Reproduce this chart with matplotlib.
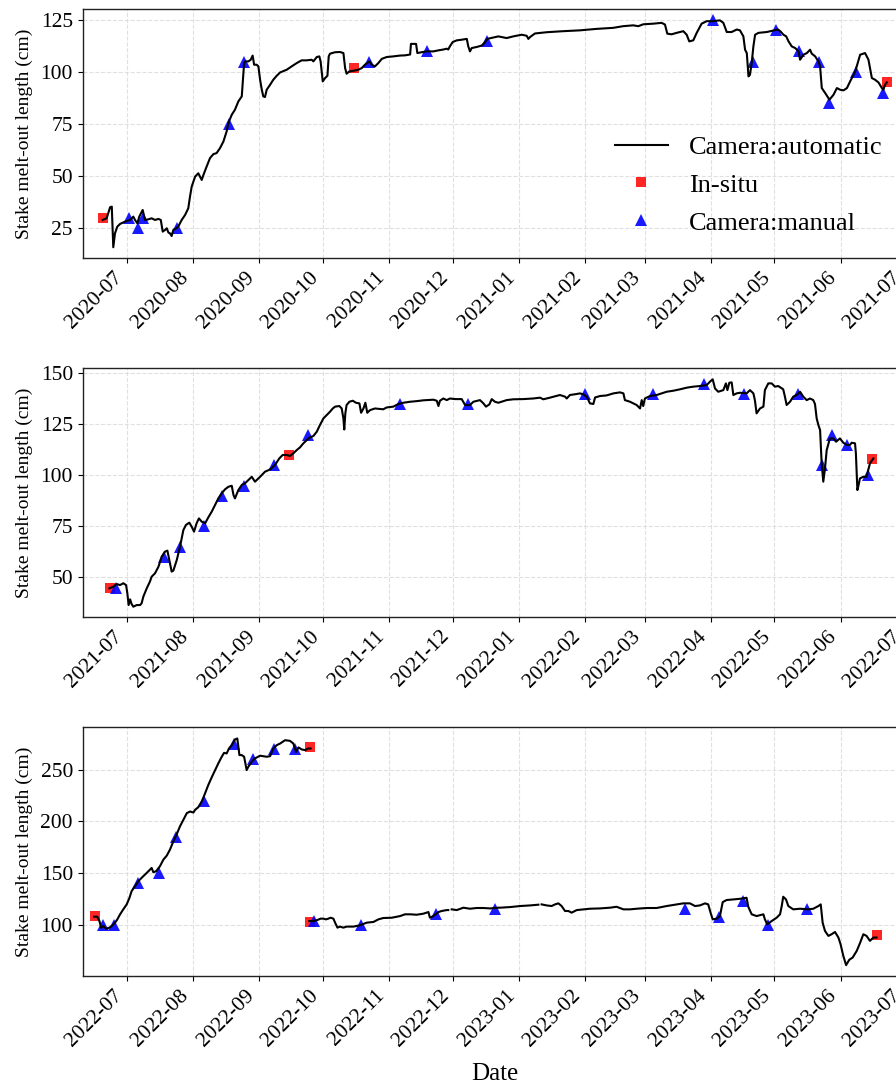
import numpy as np
import matplotlib
matplotlib.use("Agg")
import matplotlib.pyplot as plt
import matplotlib.dates as mdates
from matplotlib.lines import Line2D

plt.rcParams['font.family'] = ['Liberation Serif', 'DejaVu Serif']

# ---------------- data: [days since season start, stake melt-out length (cm)] ----------------
start1 = "2020-07-01"
start2 = "2021-07-01"
start3 = "2022-07-01"

auto1 = np.array([
    [-11.3, 29.0], [-9.4, 29.8], [-7.8, 35.1], [-7.0, 35.4], [-6.3, 15.9], [-5.5, 22.6], [-4.4, 25.8],
    [-3.1, 27.1], [-0.8, 28.2], [1.6, 29.0], [3.1, 30.6], [3.9, 29.0], [5.0, 27.4], [5.9, 30.6],
    [7.5, 33.8], [8.6, 29.0], [10.2, 29.3], [11.7, 29.8], [13.3, 29.0], [14.9, 29.5], [16.0, 29.0],
    [16.9, 23.4], [18.0, 24.2], [18.8, 25.0], [19.6, 22.9], [20.3, 22.6], [21.1, 21.3], [21.9, 24.2],
    [23.2, 25.0], [24.2, 25.8], [25.8, 29.0], [27.4, 31.4], [28.9, 34.6], [29.7, 40.2], [30.5, 45.0],
    [32.1, 49.8], [33.6, 51.4], [34.4, 49.8], [35.2, 48.2], [36.0, 50.6], [37.5, 54.6], [39.1, 58.7],
    [40.7, 60.6], [42.2, 61.1], [43.8, 63.5], [45.4, 66.7], [46.9, 71.5], [47.7, 75.5], [49.3, 79.5],
    [50.8, 81.9], [52.4, 85.9], [54.0, 88.3], [54.7, 98.7], [55.1, 104.3], [55.8, 105.1], [57.1, 105.1],
    [58.2, 105.9], [59.1, 107.9], [59.8, 103.5], [61.0, 103.5], [61.8, 102.7], [62.6, 96.3], [63.4, 91.5],
    [64.1, 88.3], [64.9, 88.0], [65.7, 91.5], [67.3, 93.9], [68.8, 96.3], [70.4, 98.2], [72.0, 99.8],
    [75.1, 101.1], [77.4, 102.7], [79.8, 104.3], [82.1, 105.6], [84.5, 105.6], [86.8, 105.9], [87.6, 105.1],
    [89.2, 107.2], [90.4, 107.5], [91.0, 105.1], [92.0, 95.5], [93.1, 97.1], [94.2, 98.2], [94.8, 107.5],
    [95.4, 108.8], [97.8, 109.5], [100.1, 109.6], [101.7, 109.1], [102.5, 101.9], [103.2, 99.2],
    [104.5, 100.3], [106.4, 100.6], [108.7, 101.1], [110.3, 101.9], [111.8, 103.5], [113.9, 105.1],
    [115.0, 103.5], [116.5, 102.7], [118.1, 104.3], [119.7, 106.3], [122.0, 107.2], [125.1, 107.5],
    [128.3, 107.9], [130.6, 108.0], [133.0, 108.4], [133.4, 113.5], [135.8, 113.5], [136.4, 109.1],
    [138.4, 109.5], [140.8, 109.9], [143.9, 109.9], [146.3, 110.4], [148.6, 110.8], [150.2, 111.2],
    [150.9, 110.8], [151.7, 112.4], [153.0, 114.4], [154.9, 115.2], [157.2, 115.5], [159.6, 115.9],
    [160.3, 112.3], [161.1, 109.9], [161.9, 111.5], [164.2, 112.0], [166.6, 112.7], [168.2, 114.3],
    [169.2, 115.9], [171.3, 116.4], [174.4, 117.1], [178.3, 116.3], [181.4, 117.1], [185.4, 117.9],
    [187.7, 117.4], [188.5, 115.9], [189.3, 116.8], [191.6, 118.5], [197.1, 119.1], [204.9, 119.6],
    [212.7, 120.0], [220.5, 120.7], [228.3, 121.2], [233.0, 122.0], [237.7, 122.4], [240.1, 122.0],
    [242.4, 122.9], [247.1, 123.2], [251.0, 123.6], [252.6, 122.8], [253.7, 118.4], [255.7, 118.1],
    [258.1, 118.8], [261.2, 119.6], [262.8, 117.9], [264.0, 114.7], [265.9, 115.2], [267.5, 118.8],
    [269.8, 123.2], [272.2, 124.4], [275.3, 124.4], [278.4, 124.8], [280.0, 123.6], [281.6, 119.2],
    [283.9, 119.2], [286.3, 120.4], [287.8, 120.0], [289.4, 117.1], [290.2, 110.7], [291.0, 109.1],
    [291.8, 97.9], [292.5, 98.7], [293.3, 104.3], [294.1, 112.3], [294.9, 117.9], [296.5, 118.8],
    [300.4, 119.2], [303.5, 119.9], [305.6, 120.4], [306.7, 119.6], [308.2, 117.9], [309.5, 117.1],
    [310.6, 114.7], [312.1, 112.3], [313.7, 111.5], [315.3, 109.9], [316.0, 105.9], [317.6, 108.3],
    [319.2, 109.1], [320.7, 110.7], [321.5, 108.8], [323.1, 107.5], [324.6, 105.1], [325.4, 102.7],
    [326.2, 92.3], [327.8, 89.9], [329.8, 86.7], [331.7, 89.1], [333.3, 92.3], [334.8, 91.5],
    [336.4, 91.2], [338.0, 92.3], [339.5, 95.5], [341.9, 100.3], [344.2, 108.3], [346.5, 109.1],
    [348.1, 105.9], [349.7, 97.1], [351.2, 96.3], [352.8, 95.0], [354.4, 92.3], [355.1, 91.5],
    [355.9, 93.9], [356.7, 95.0],
])
insitu1 = np.array([[-10.9, 30], [106.7, 102], [357.0, 95]])
manual1 = np.array([
    [1.3, 30], [5.2, 25], [7.5, 30], [23.5, 25], [48.2, 75], [55.1, 105], [113.9, 105], [141.1, 110],
    [169.2, 115], [275.0, 125], [294.1, 105], [304.8, 120], [315.3, 110], [325.1, 105], [329.8, 85],
    [342.3, 100], [355.1, 90],
])

auto2 = np.array([
    [-8.1, 44.6], [-6.3, 45.4], [-4.7, 46.7], [-3.1, 46.2], [-1.6, 47.1], [-0.3, 46.2], [0.3, 42.2],
    [0.9, 36.4], [1.6, 39.2], [2.3, 36.9], [3.1, 35.6], [4.7, 36.4], [6.3, 36.4], [7.0, 37.3],
    [7.8, 40.5], [9.4, 44.6], [10.9, 47.9], [11.7, 50.3], [13.3, 52.0], [14.9, 55.2], [16.4, 60.1],
    [18.0, 62.6], [19.1, 63.1], [20.0, 58.5], [21.1, 52.8], [21.9, 53.3], [23.5, 58.5], [25.0, 65.0],
    [26.6, 73.2], [27.8, 75.7], [29.4, 76.8], [30.5, 74.8], [31.6, 72.4], [32.8, 76.5], [33.9, 78.9],
    [35.2, 77.3], [36.8, 76.5], [38.3, 79.4], [39.9, 82.2], [41.5, 85.5], [43.0, 88.7], [44.6, 91.2],
    [46.1, 93.1], [47.7, 94.4], [49.3, 94.9], [50.1, 90.4], [50.8, 88.7], [52.4, 92.8], [54.0, 95.3],
    [55.5, 96.1], [57.1, 97.7], [58.7, 99.3], [60.2, 96.9], [62.6, 99.3], [64.9, 101.8], [67.3, 102.9],
    [69.6, 105.1], [71.6, 108.3], [73.2, 110.0], [75.1, 110.0], [76.6, 109.5], [78.2, 110.8],
    [79.8, 112.4], [81.3, 113.7], [82.9, 115.7], [84.5, 117.3], [86.0, 118.6], [87.6, 119.3],
    [89.2, 121.4], [90.7, 124.7], [92.3, 127.9], [93.9, 129.6], [95.4, 131.2], [96.7, 132.8],
    [97.8, 133.7], [99.8, 134.0], [100.9, 132.8], [101.7, 127.9], [102.1, 122.5], [102.6, 130.4],
    [103.2, 134.5], [104.5, 136.1], [106.1, 136.6], [107.6, 135.6], [109.2, 135.3], [110.0, 130.7],
    [111.1, 132.8], [112.0, 135.6], [112.9, 130.7], [114.2, 132.0], [116.5, 132.8], [120.4, 132.4],
    [122.0, 133.3], [125.1, 133.7], [127.5, 135.0], [129.8, 135.6], [133.0, 136.1], [136.1, 136.4],
    [139.2, 136.8], [143.9, 137.1], [145.5, 136.6], [146.3, 134.0], [147.0, 136.6], [148.6, 137.7],
    [150.2, 136.9], [151.7, 137.7], [154.1, 137.4], [157.2, 137.4], [158.8, 134.5], [161.1, 134.5],
    [162.7, 136.1], [165.8, 136.9], [167.4, 135.3], [168.6, 133.7], [170.2, 134.8], [171.3, 137.4],
    [172.8, 136.1], [174.4, 135.6], [178.3, 136.9], [181.4, 137.3], [186.1, 137.4], [190.8, 137.7],
    [194.0, 138.1], [195.5, 137.3], [198.6, 138.1], [203.3, 139.4], [205.7, 138.6], [206.5, 137.7],
    [208.0, 139.4], [211.2, 139.9], [212.7, 140.2], [214.3, 139.7], [215.9, 138.6], [217.4, 135.3],
    [219.0, 135.0], [219.8, 138.2], [222.1, 138.9], [225.2, 139.2], [228.4, 140.2], [231.5, 140.7],
    [233.1, 140.2], [233.8, 136.9], [236.2, 136.1], [239.3, 134.5], [240.9, 132.8], [241.7, 136.9],
    [242.4, 134.0], [243.2, 137.7], [245.6, 138.9], [248.7, 139.4], [253.4, 141.0], [256.5, 141.5],
    [259.7, 142.2], [262.8, 143.0], [265.9, 143.5], [269.0, 143.8], [272.2, 144.3], [273.7, 145.9],
    [275.0, 147.1], [276.1, 142.6], [277.6, 141.0], [280.0, 141.8], [281.2, 145.1], [281.9, 141.8],
    [282.8, 145.4], [283.9, 145.6], [284.7, 139.4], [286.2, 140.2], [287.8, 140.5], [290.9, 140.2],
    [292.5, 141.8], [294.1, 140.2], [294.8, 136.9], [295.6, 130.4], [297.2, 132.8], [298.8, 133.7],
    [299.5, 141.8], [301.1, 145.1], [302.7, 145.1], [304.2, 143.5], [305.8, 143.8], [308.1, 142.2],
    [308.9, 138.6], [309.7, 134.5], [311.3, 136.1], [312.8, 138.6], [314.4, 139.4], [316.0, 141.0],
    [317.5, 138.6], [319.1, 136.9], [320.7, 137.7], [322.2, 136.9], [323.0, 135.0], [323.8, 127.9],
    [324.6, 124.7], [325.4, 122.2], [326.1, 106.7], [326.9, 96.9], [327.7, 103.4], [328.5, 112.4],
    [330.0, 118.1], [331.6, 118.1], [332.9, 116.5], [334.7, 118.1], [336.3, 116.0], [337.9, 114.9],
    [339.4, 114.9], [340.2, 116.0], [341.8, 115.7], [342.2, 110.8], [342.9, 92.8], [343.3, 94.4],
    [344.1, 98.5], [345.7, 99.3], [347.2, 99.3], [348.8, 105.9], [350.4, 108.3],
])
insitu2 = np.array([[-7.8, 45], [76.0, 110], [349.9, 108]])
manual2 = np.array([
    [-5.0, 45], [17.5, 60], [25.0, 65], [36.3, 75], [44.6, 90], [55.2, 95], [69.3, 105], [85.2, 120],
    [128.3, 135], [160.0, 135], [215.1, 140], [246.8, 140], [270.9, 145], [289.8, 140], [315.2, 140],
    [326.1, 105], [330.8, 120], [337.9, 115], [348.0, 100],
])

nan = np.nan
auto3 = np.array([
    [-15.3, 107.7], [-13.8, 107.7], [-12.8, 103.5], [-12.0, 97.1], [-10.9, 98.7], [-9.7, 96.1],
    [-8.1, 97.1], [-7.0, 98.7], [-5.5, 101.9], [-4.4, 105.1], [-3.1, 110.0], [-1.6, 114.8],
    [0.0, 119.6], [1.3, 126.0], [2.3, 132.4], [3.9, 137.3], [5.5, 142.1], [7.0, 145.3], [8.6, 148.5],
    [10.2, 151.7], [11.7, 154.9], [12.5, 150.7], [13.8, 151.7], [15.6, 156.5], [17.2, 162.9],
    [18.8, 166.8], [20.3, 172.6], [21.9, 180.6], [23.5, 187.7], [25.0, 195.1], [26.6, 201.5],
    [28.2, 207.9], [29.7, 209.5], [31.3, 208.5], [32.1, 211.1], [33.6, 213.7], [35.2, 219.1],
    [36.8, 227.2], [38.3, 235.2], [39.9, 242.6], [41.5, 249.6], [43.0, 256.1], [44.6, 262.5],
    [45.7, 266.3], [46.9, 265.7], [48.0, 270.5], [49.3, 273.7], [50.8, 279.2], [51.9, 280.2],
    [52.9, 264.1], [54.0, 264.1], [55.1, 262.5], [56.3, 249.6], [57.1, 252.9], [58.7, 257.7],
    [60.2, 260.9], [62.6, 263.5], [65.7, 262.5], [67.3, 263.1], [68.8, 270.5], [70.4, 273.7],
    [72.0, 275.3], [74.3, 278.5], [76.6, 277.9], [78.2, 275.3], [79.5, 267.3], [80.6, 271.5],
    [82.1, 269.6], [83.7, 268.9], [85.2, 270.5], [86.3, 270.5],
    [nan, nan],
    [85.7, 103.5], [87.6, 103.5], [89.5, 104.5], [91.0, 105.8], [92.3, 105.8], [93.5, 105.1],
    [94.6, 105.8], [95.7, 106.7], [97.0, 105.8], [97.8, 101.9], [98.9, 97.1], [100.1, 98.1],
    [101.7, 97.1], [103.2, 98.1], [106.4, 98.1], [109.5, 99.4], [112.6, 101.9], [115.8, 102.6],
    [118.1, 105.1], [120.4, 106.4], [124.4, 106.7], [128.3, 108.3], [130.6, 110.0], [133.0, 110.0],
    [136.1, 109.6], [139.2, 110.6], [141.6, 112.2], [142.3, 106.7], [143.9, 108.3], [146.3, 112.2],
    [147.8, 113.2], [150.2, 114.1], [150.9, 114.1],
    [nan, nan],
    [152.5, 114.8], [154.9, 114.1], [158.0, 116.4], [161.1, 115.4], [164.2, 116.1], [167.4, 116.1],
    [170.5, 115.7], [174.4, 116.4], [175.2, 116.4], [179.9, 117.0], [184.6, 118.0], [189.3, 118.6],
    [193.2, 119.3],
    [nan, nan],
    [194.7, 119.6], [197.1, 118.6], [199.4, 118.0], [201.0, 119.6], [202.6, 120.6], [204.1, 118.0],
    [205.7, 113.2], [207.3, 113.2], [208.8, 111.6], [211.2, 114.1], [214.3, 114.8], [217.4, 115.4],
    [222.1, 115.7], [226.8, 116.4], [229.9, 117.3], [233.1, 114.8], [236.2, 114.8], [239.3, 115.4],
    [244.0, 116.1], [248.7, 116.1], [253.4, 118.0], [258.1, 119.6], [261.2, 120.6], [264.3, 120.6],
    [266.7, 118.0], [269.0, 118.6], [271.4, 120.6], [272.9, 119.6], [274.0, 111.6], [275.0, 105.1],
    [276.9, 105.8], [278.4, 108.3], [279.7, 121.8], [281.5, 123.8], [284.7, 124.4], [287.8, 125.0],
    [290.9, 126.0], [291.7, 117.3], [293.3, 110.0], [295.6, 108.3], [298.8, 110.0], [299.5, 105.1],
    [300.6, 100.3], [302.7, 103.5], [305.0, 106.7], [306.6, 110.0], [307.4, 118.0], [308.1, 127.0],
    [309.4, 124.4], [310.5, 118.0], [312.8, 114.8], [316.0, 115.4], [319.9, 114.8], [322.2, 115.4],
    [324.6, 118.0], [325.7, 119.6], [326.6, 101.9], [327.7, 93.9], [329.3, 89.1], [330.8, 90.7],
    [332.4, 92.9], [334.0, 87.5], [335.0, 81.1], [336.3, 69.8], [337.6, 60.8], [339.1, 66.0],
    [340.7, 68.2], [342.6, 74.6], [344.1, 82.0], [345.7, 90.7], [347.2, 89.1], [348.8, 84.3],
    [350.4, 87.5], [351.9, 87.5],
])
insitu3 = np.array([[-14.9, 108], [86.0, 103], [86.0, 272], [352.0, 90]])
manual3 = np.array([
    [-10.9, 100], [-5.8, 100], [5.5, 140], [15.2, 150], [23.2, 185], [36.3, 220], [50.4, 275],
    [59.1, 260], [69.3, 270], [79.0, 270], [88.1, 104], [110.0, 100], [145.2, 110], [172.8, 115],
    [262.0, 115], [278.0, 107], [289.1, 123], [301.1, 100], [319.1, 115],
])

ylims = [(10.6, 130.1), (30.4, 152.5), (50.0, 291.0)]
yticks = [[25, 50, 75, 100, 125], [50, 75, 100, 125, 150], [100, 150, 200, 250]]

panels = [
    (start1, auto1, insitu1, manual1),
    (start2, auto2, insitu2, manual2),
    (start3, auto3, insitu3, manual3),
]

# ---------------- figure ----------------
W, H = 896, 1086
fig = plt.figure(figsize=(W / 100, H / 100), dpi=100)

ax_left_px, ax_right_px = 82.7, 906.6
ax_tops = [9.3, 368.3, 727.3]
ax_h_px = 249.0

for i, (start, auto, insitu, manual) in enumerate(panels):
    top = ax_tops[i]
    ax = fig.add_axes([ax_left_px / W, 1 - (top + ax_h_px) / H,
                       (ax_right_px - ax_left_px) / W, ax_h_px / H])
    base = mdates.datestr2num(start)

    ax.plot(base + insitu[:, 0], insitu[:, 1], linestyle='none', marker='s', markersize=7,
            color='#ff0000', alpha=0.85, markeredgewidth=0, zorder=2)
    ax.plot(base + manual[:, 0], manual[:, 1], linestyle='none', marker='^', markersize=8.5,
            color='#0000ff', alpha=0.9, markeredgewidth=0, zorder=2)
    ax.plot(base + auto[:, 0], auto[:, 1], color='black', linewidth=1.5, zorder=3)

    ax.set_xlim(base - 20.65, base + 366)
    ax.set_ylim(*ylims[i])
    ax.set_yticks(yticks[i])
    ax.xaxis.set_major_locator(mdates.MonthLocator())
    ax.xaxis.set_major_formatter(mdates.DateFormatter('%Y-%m'))
    ax.tick_params(axis='both', labelsize=15.5, length=3.5, width=0.8, colors='black')
    for lab in ax.get_xticklabels():
        lab.set_rotation(45)
        lab.set_ha('right')
    ax.grid(True, linestyle='--', color='#d9d9d9', linewidth=0.8, alpha=0.8, zorder=0)
    for sp in ax.spines.values():
        sp.set_linewidth(1.0)
        sp.set_color('#222222')
    ax.set_ylabel('Stake melt-out length (cm)', fontsize=14)
    ax.yaxis.set_label_coords((33 - ax_left_px) / (ax_right_px - ax_left_px), 0.5)

    if i == 0:
        handles = [
            Line2D([], [], color='black', linewidth=1.5),
            Line2D([], [], linestyle='none', marker='s', markersize=7, color='#ff0000',
                   alpha=0.85, markeredgewidth=0),
            Line2D([], [], linestyle='none', marker='^', markersize=8.5, color='#0000ff',
                   alpha=0.9, markeredgewidth=0),
        ]
        ax.legend(handles, ['Camera:automatic', 'In-situ', 'Camera:manual'],
                  loc='center left', bbox_to_anchor=(0.6332, 0.2944), borderaxespad=0,
                  frameon=False, fontsize=19, numpoints=1, labelspacing=0.55,
                  handlelength=2.0, handletextpad=0.8)
    if i == 2:
        ax.set_xlabel('Date', fontsize=18, labelpad=9)

fig.savefig('out.png', dpi=100)
